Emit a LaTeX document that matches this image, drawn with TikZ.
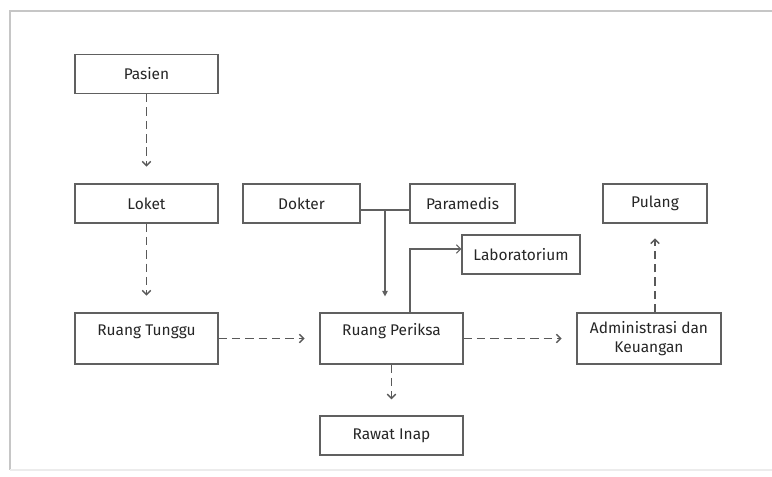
\documentclass[tikz,border=0pt]{standalone}
\usepackage{fontspec}
\setmainfont{Fira Sans}
\usetikzlibrary{arrows.meta}
\tikzset{
  box/.style={draw=gray!75!black, line width=0.8pt, minimum height=0.975cm, inner sep=2pt, text=black!85, font=\fontsize{11}{13}\selectfont},
  tallbox/.style={box, minimum height=1.275cm},
  toptext/.style={text height=7pt, text depth=11pt},
  flow/.style={draw=gray!70!black, line width=1pt, dashed, dash pattern=on 6pt off 3.5pt, -{Straight Barb[length=3pt,width=6pt]}},
  link/.style={draw=gray!75!black, line width=0.8pt}
}

\begin{document}
\begin{tikzpicture}[x=0.025cm, y=-0.025cm]
    % page and frame
    \useasboundingbox[fill=white] (0,0) rectangle (772,477);
    \draw[gray!45, line width=1.2pt] (10,470) -- (10,11) -- (772,11);
    \draw[gray!15, line width=1pt] (10,470) -- (772,470);

    % boxes
    \node[box, minimum width=3.575cm] (pasien) at (146.5,74) {Pasien};
    \node[box, minimum width=3.575cm] (loket) at (146.5,203.5) {Loket};
    \node[box, minimum width=2.925cm] (dokter) at (301.5,203.5) {Dokter};
    \node[box, minimum width=2.625cm] (paramedis) at (462.5,203.5) {Paramedis};
    \node[box, minimum width=2.95cm] (lab) at (521,254.5) {Laboratorium};
    \node[box, minimum width=2.6cm] (pulang) at (655,203.5) {Pulang};
    \node[tallbox, toptext, minimum width=3.575cm] (tunggu) at (146.5,338.5) {Ruang Tunggu};
    \node[tallbox, toptext, minimum width=3.575cm] (periksa) at (391.5,338.5) {Ruang Periksa};
    \node[tallbox, minimum width=3.6cm, align=center] (admin) at (649,338.5) {Administrasi dan\\Keuangan};
    \node[box, minimum width=3.575cm] (rawat) at (391.5,435.5) {Rawat Inap};

    % patient flow
    \draw[flow, shorten >=0.42cm] (pasien) -- (loket);
    \draw[flow, shorten >=0.42cm] (loket) -- (tunggu);
    \draw[flow, shorten >=0.37cm] (tunggu) -- (periksa);
    \draw[flow, shorten >=0.37cm] (periksa) -- (admin);
    \draw[flow, shorten >=0.4cm] (periksa) -- (rawat);
    \draw[flow, shorten >=0.37cm] (admin.north -| pulang) -- (pulang);

    % staff and laboratory
    \coordinate (jn) at (385,210);
    \coordinate (lb) at (410,249);
    \draw[link] (dokter.east |- jn) -- (paramedis.west |- jn);
    \draw[link, -{Triangle[length=4pt,width=4pt]}, shorten >=0.4cm] (jn) -- (jn |- periksa.north);
    \draw[link, -{Straight Barb[length=3pt,width=6pt]}] (periksa.north -| lb) |- (lab.west |- lb);
\end{tikzpicture}
\end{document}
